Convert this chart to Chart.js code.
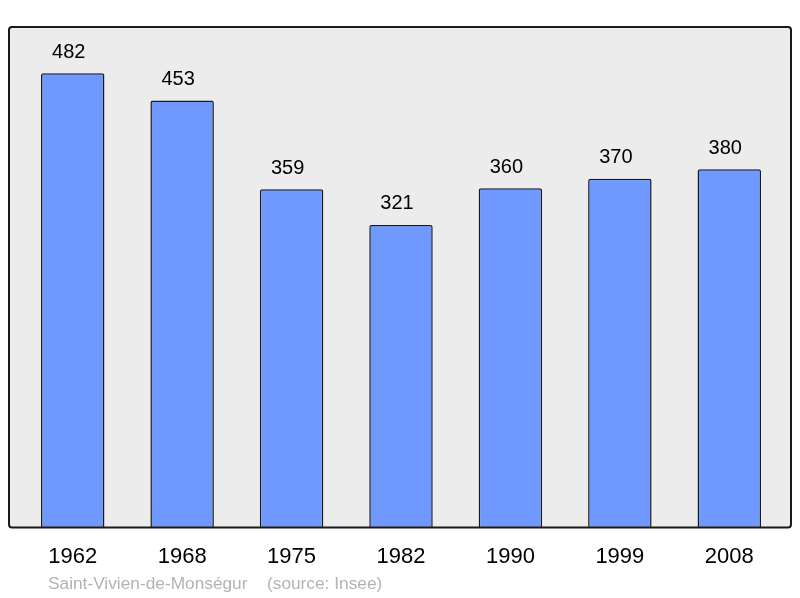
<!DOCTYPE html>
<html>
<head>
<meta charset="utf-8">
<script src="https://cdn.jsdelivr.net/npm/chart.js@4/dist/chart.umd.min.js"></script>
<style>
  body { margin: 0; background: #fff; }
  #wrap { width: 800px; height: 598px; }
</style>
</head>
<body>
<div id="wrap"><canvas id="graf" width="800" height="598"></canvas></div>
<script>
var godine = ["1962", "1968", "1975", "1982", "1990", "1999", "2008"];
var stanovnici = [482, 453, 359, 321, 360, 370, 380];
var naslov = "Saint-Vivien-de-Monségur";
var izvor = "(source: Insee)";

// siva pozadina i okvir oko grafika
var pozadina = {
  id: "pozadina",
  beforeDraw: function (chart) {
    var c = chart.ctx;
    var a = chart.chartArea;
    var x1 = a.left - 9, x2 = a.right + 7;
    c.save();
    c.fillStyle = "#ececec";
    c.beginPath();
    c.roundRect(x1, a.top, x2 - x1, a.bottom - a.top, 3);
    c.fill();
    c.restore();
  },
  afterDatasetsDraw: function (chart) {
    var c = chart.ctx;
    var a = chart.chartArea;
    var x1 = a.left - 9, x2 = a.right + 7;
    c.save();
    c.strokeStyle = "#1a1a1a";
    c.lineWidth = 2;
    c.beginPath();
    c.roundRect(x1, a.top, x2 - x1, a.bottom - a.top, 3);
    c.stroke();
    c.restore();
  }
};

// brojevi iznad stubova i izvor dole
var oznake = {
  id: "oznake",
  afterDraw: function (chart) {
    var c = chart.ctx;
    var meta = chart.getDatasetMeta(0);
    c.save();
    c.fillStyle = "#000";
    c.font = "20px 'Liberation Sans', Arial, sans-serif";
    c.textAlign = "center";
    c.textBaseline = "middle";
    meta.data.forEach(function (bar, i) {
      c.fillText(String(stanovnici[i]), bar.x - 4, bar.y - 21);
    });
    c.fillStyle = "#b3b3b3";
    c.font = "17.3px 'Liberation Sans', Arial, sans-serif";
    c.textAlign = "left";
    c.fillText(naslov, 48, 584);
    c.fillText(izvor, 267, 584);
    c.restore();
  }
};

var graf = new Chart(document.getElementById("graf").getContext("2d"), {
  type: "bar",
  data: {
    labels: godine,
    datasets: [
      {
        data: stanovnici,
        backgroundColor: "#7099ff",
        borderColor: "#1a1a1a",
        borderWidth: 1.5,
        borderRadius: 2,
        borderSkipped: "bottom",
        categoryPercentage: 1,
        barPercentage: 0.58
      }
    ]
  },
  options: {
    responsive: false,
    animation: false,
    layout: { padding: { left: 18, right: 16, top: 27, bottom: 12 } },
    plugins: {
      legend: { display: false },
      tooltip: { enabled: false }
    },
    scales: {
      x: {
        grid: { display: false, drawTicks: false },
        border: { display: false },
        ticks: {
          color: "#000",
          padding: 16,
          font: { family: "'Liberation Sans', Arial, sans-serif", size: 22 }
        }
      },
      y: {
        display: false,
        min: 0,
        max: 531
      }
    }
  },
  plugins: [pozadina, oznake]
});
</script>
</body>
</html>
